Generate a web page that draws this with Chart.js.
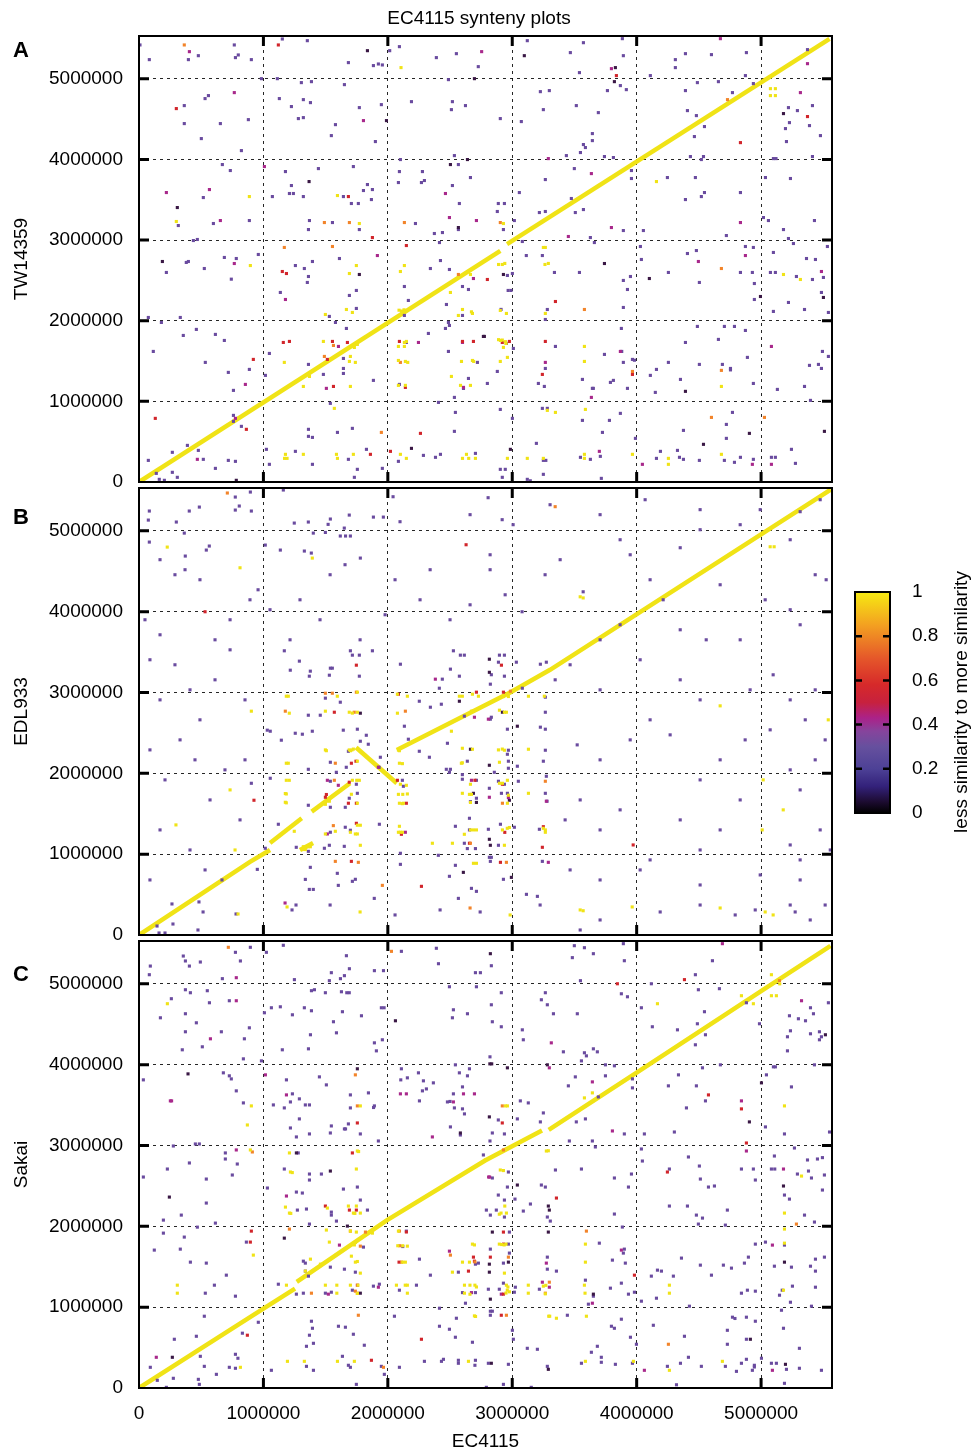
<!DOCTYPE html>
<html><head><meta charset="utf-8">
<script src="https://cdn.jsdelivr.net/npm/chart.js@4.4.0/dist/chart.umd.min.js"></script>
<style>
html,body{margin:0;padding:0;background:#fff}
body{width:973px;height:1453px;position:relative;overflow:hidden}
canvas{position:absolute;left:0}
</style></head><body>
<canvas id="cA" width="973" height="500" style="top:0px"></canvas>
<canvas id="cB" width="973" height="470" style="top:480px"></canvas>
<canvas id="cC" width="973" height="520" style="top:933px"></canvas>
<canvas id="cBar" width="133" height="280" style="left:840px;top:560px"></canvas>
<script>
// ---------------- DATA (genome positions in kb: [EC4115 position, query position]) ----------------
const X_MAX_BP = 5570000, Y_MAX_BP = 5530000;
const AXIS_TICKS = [0,1000000,2000000,3000000,4000000,5000000];
const BAR_TICKS = [0,0.2,0.4,0.6,0.8,1];
const X_TITLE = 'EC4115';
const CHART_TITLE = 'EC4115 synteny plots';
const BAR_TITLE = 'less similarity to more similarity';
const PANELS = ['A','B','C'];
const GENOMES = ['TW14359','EDL933','Sakai'];
// similarity value of each colour class
const SIM_CLASSES = ['dark','purple','magenta','red','orange','yellow'];
const SIM_VALUES  = [0.05, 0.22, 0.42, 0.55, 0.75, 0.97];

// ---- Panel A : TW14359 ----
const A_diag = [[[0,0],[2904,2866]],[[2958,2949],[5550,5495]]];
const A_dark = [[1836,5348],[2696,5001],[1989,4481],[1367,3725],[2503,3936],[2640,3998],[308,3403],[2567,3155],[188,2734],[1771,2573],[2768,1805],[2190,417],[782,21],[3097,5286],[3829,5138],[3821,4964],[5180,4568],[4102,2523],[3741,2709],[2929,2573],[4995,2300],[5501,2288],[4392,1124],[5509,628],[4906,603],[4537,467],[2985,405],[2776,1805]];
const A_magenta = [[405,5336],[2754,5336],[766,4828],[1804,4481],[1008,3911],[220,3589],[566,3626],[654,3242],[2463,3577],[2495,3279],[2712,3242],[766,2709],[1916,2808],[2688,2523],[1177,2263],[855,1210],[1603,1681],[2246,1730],[2600,1730],[1506,1161],[2608,1173],[775,789],[469,281],[4673,5497],[3797,5125],[5316,4828],[5373,5187],[3290,4010],[3636,3824],[3797,3155],[3451,3044],[4834,3217],[5485,2610],[4874,2808],[4496,2734],[3869,1619],[3636,1049],[5083,1681],[3266,1483],[5083,219],[4930,219],[4046,219],[3700,380]];
const A_red = [[1120,5419],[300,4630],[1683,3539],[1876,3031],[2149,2932],[1152,2610],[1185,2585],[919,1520],[1160,1730],[1209,1743],[1555,1743],[1675,1730],[1514,1520],[1563,1185],[2093,1743],[2600,1743],[2688,1743],[2141,1173],[131,789],[863,653],[2262,603],[2021,380],[1860,343],[3837,5039],[5373,4531],[4834,4208],[2800,2511],[3347,2238],[3966,1334],[2977,1743],[3266,1743],[3242,1334],[2920,1730]];
const A_orange = [[364,5419],[1490,3217],[1691,3217],[2133,3217],[1168,2908],[1555,2920],[2567,2573],[1563,1693],[1490,1557],[2101,1483],[1948,615],[4730,4741],[2904,3217],[4681,2647],[3580,2139],[3966,1371],[4681,1384],[5027,801],[4601,801]];
const A_yellow = [[2106,5138],[887,3539],[1595,3552],[300,3230],[1771,3205],[895,2684],[1747,2684],[1691,2585],[2101,2610],[2133,2684],[2664,2573],[2503,2350],[1667,2139],[1715,2102],[1498,2077],[2090,2130],[2110,2120],[2130,2135],[2600,2139],[2672,2110],[2680,2090],[2567,2065],[1168,1483],[1370,1309],[1321,1185],[1482,1743],[1731,1668],[1755,1706],[1699,1557],[1691,1495],[1739,1483],[1699,1185],[2133,1730],[2149,1743],[2085,1681],[2133,1681],[2085,1507],[2141,1495],[2160,1483],[2592,1495],[2680,1507],[2690,1495],[2511,1309],[2584,1198],[2664,1198],[2085,1198],[2141,1198],[1570,913],[2101,343],[2149,293],[2632,343],[2600,293],[2650,293],[2704,293],[1723,343],[1587,343],[1595,293],[1321,343],[1177,343],[1170,293],[1190,293],[5075,4877],[5115,4877],[5075,4791],[5115,4791],[4159,3725],[2929,3205],[3250,2908],[3266,2908],[3263,2697],[3290,2710],[2920,2697],[2940,2710],[2890,2697],[2904,2127],[2953,2090],[3266,2090],[5316,2511],[5180,2573],[4681,1185],[3580,1681],[3580,1495],[3588,900],[3347,863],[3282,888],[3250,293],[3121,293],[2961,293],[4681,343],[4255,293],[4255,219],[3966,343],[3580,343],[3580,293],[2904,1495],[2961,1545],[2890,1765],[2905,1755],[2920,1760],[2945,1740],[2950,1718],[2929,1669]];
const A_purple = [[8,5419],[766,5419],[1152,5493],[1353,5472],[2093,5398],[2015,5348],[83,5237],[397,5237],[477,5286],[775,5262],[798,5295],[903,5237],[1683,5200],[1884,5163],[1924,5183],[1956,5171],[2390,5262],[2551,5311],[2727,5150],[984,5001],[1112,5001],[1305,4952],[1386,4964],[1651,4927],[2487,4989],[531,4754],[558,4791],[1128,4754],[1321,4741],[1378,4704],[1225,4655],[364,4667],[1771,4642],[1948,4679],[2190,4716],[2519,4716],[2511,4617],[2624,4667],[364,4444],[654,4444],[879,4493],[1281,4506],[1321,4518],[1579,4431],[501,4258],[823,4109],[1546,4295],[1900,4221],[670,3936],[734,3862],[1177,3849],[1442,3886],[1723,3911],[2101,3998],[2093,3849],[2278,3849],[2535,4047],[2567,3936],[2664,3775],[517,3527],[1072,3539],[1209,3577],[1241,3577],[1321,3539],[1225,3676],[1836,3688],[1804,3614],[1876,3626],[1868,3502],[1643,3539],[1707,3453],[1763,3453],[2085,3713],[2270,3713],[2294,3738],[2519,3676],[2575,3453],[316,3180],[598,3205],[887,3242],[1370,3242],[1362,3130],[1555,3217],[1771,3130],[2222,3205],[2567,3130],[2374,3081],[2439,3093],[2415,2969],[437,2994],[469,3007],[380,2722],[397,2734],[220,2598],[686,2784],[782,2771],[959,2821],[525,2647],[742,2515],[1257,2684],[1329,2647],[1394,2734],[1362,2548],[1353,2474],[1611,2771],[2342,2647],[2423,2746],[2495,2635],[2600,2424],[2648,2387],[1136,2350],[1747,2375],[1691,2313],[1747,2152],[1530,2053],[1579,1978],[1667,1904],[2133,2424],[2165,2251],[2133,2065],[2471,2201],[2600,2065],[2487,1978],[2495,1941],[2463,1904],[2326,1842],[75,2040],[180,1978],[332,2040],[461,1892],[356,1817],[614,1830],[686,1755],[115,1619],[533,1483],[718,1359],[887,1396],[759,1136],[1048,1594],[1016,1322],[1362,1458],[1643,1532],[1643,1408],[1643,1346],[1482,1334],[1884,1260],[2149,1730],[2487,1619],[2720,1483],[2608,1160],[2648,1284],[2093,1210],[2535,1049],[2543,863],[2535,628],[2407,987],[1538,975],[759,826],[759,752],[823,690],[1362,653],[1362,566],[1394,553],[1595,615],[1715,665],[1828,405],[2423,343],[2383,306],[2286,330],[2085,256],[2704,355],[1956,169],[1755,157],[1731,58],[1683,281],[1257,380],[1024,405],[1048,219],[1394,219],[389,454],[477,392],[268,368],[75,268],[517,281],[614,169],[718,268],[775,256],[268,120],[308,58],[139,107],[163,33],[204,21],
[3121,5472],[3572,5447],[3885,5497],[3467,5324],[3893,5286],[4392,5311],[4601,5299],[4882,5324],[4311,5237],[4311,5138],[3869,4915],[3917,4865],[3765,4853],[3540,5076],[4110,5039],[4488,4952],[4657,4964],[4874,5039],[4938,4940],[4392,4853],[4770,4828],[3226,4840],[3298,4853],[3250,4617],[3073,4469],[2904,4506],[3515,4667],[3692,4580],[3644,4320],[3644,4233],[3572,4184],[3588,4147],[3548,4085],[3435,4047],[3741,4035],[3813,4023],[4408,4605],[4480,4543],[4545,4407],[4464,4283],[4432,4035],[4537,4035],[4520,3998],[5220,4642],[5292,4605],[5413,4667],[5228,4456],[5389,4419],[5196,4382],[5477,4295],[5204,4221],[5413,4035],[5373,5361],[5099,4010],[5120,4010],[3499,3886],[3266,3750],[3057,3589],[3475,3515],[3507,3341],[3572,3378],[3218,3341],[3266,3354],[3017,3242],[2888,3453],[2937,3453],[2880,3354],[2929,3130],[3628,3031],[3660,2969],[3081,2982],[3958,3862],[3958,3763],[4247,3775],[4472,3775],[4392,3502],[4520,3539],[4545,3589],[4834,3589],[3893,3118],[4054,3118],[4721,3056],[5035,3775],[5236,3763],[5019,3279],[5059,3242],[5180,3130],[5220,3019],[5260,2957],[5429,3242],[5533,2920],[5365,2771],[5437,2759],[5501,2536],[5413,2511],[5284,2548],[5115,2598],[5075,2598],[5099,2846],[4938,2908],[4874,2920],[4930,2598],[4834,2598],[4946,2461],[4946,2263],[4504,2474],[4480,2870],[4408,2833],[4255,2598],[4038,2759],[4030,2920],[3950,2548],[3893,2499],[3926,2387],[3893,2164],[3540,2598],[3339,2598],[3282,2139],[3266,2015],[3242,2808],[3113,2808],[2961,2561],[3001,2585],[2967,2375],[2990,2375],[2910,2140],[5485,2350],[5349,2139],[5541,2102],[5220,2226],[5099,2115],[4488,1929],[4705,1929],[4786,1929],[4874,1879],[4657,1768],[4392,1730],[3877,1904],[3880,1619],[3893,1483],[3741,1582],[3966,1520],[3982,1510],[3564,1272],[3644,1161],[3652,1161],[3789,1235],[3813,1260],[3926,1161],[4159,1396],[4110,1322],[4255,1483],[4352,1272],[4150,1111],[4504,1458],[4689,1458],[4754,1408],[4754,1390],[4890,1545],[4938,1222],[5131,1148],[5349,1185],[5389,1446],[5461,1458],[5485,1408],[5493,1619],[5541,1557],[5397,1012],[5244,405],[5276,231],[5115,306],[5083,306],[4938,281],[4834,306],[4786,244],[4705,268],[4721,714],[4721,541],[4770,863],[4504,268],[4376,281],[4376,640],[4344,306],[4328,392],[4191,380],[4159,293],[3990,541],[3869,851],[3781,764],[3725,615],[3708,318],[3628,281],[3548,306],[3716,45],[3564,764],[3242,913],[3282,913],[3194,479],[3250,268],[3270,268],[3250,95],[3121,33],[3145,15],[2920,58],[2904,157],[2944,157],[3001,789],[2904,900],[2800,1222],[2880,1371],[2953,1718],[3009,1656],[3347,1681],[3266,1408],[3210,1222],[3258,1185]];

// ---- Panel B : EDL933 ----
const B_diag = [[[0,0],[892,904],[1053,1052]],[[1053,1139],[1308,1445]],[[1388,1527],[1696,1878]],[[1294,1052],[1399,1139]],[[1745,2319],[2072,1878]],[[2072,2290],[2983,3000],[3304,3281],[5560,5510]]];
const B_dark = [[2816,3412],[2816,3250],[2575,2892],[3041,2583],[2921,2756],[1779,2744],[2664,2298],[2816,2100],[2688,1753],[2712,1640],[2977,1667],[2816,1184],[2824,1110],[2607,775],[2993,713]];
const B_magenta = [[2382,3165],[2696,2694],[2808,2670],[1924,2075],[1514,1914],[1602,1852],[2672,1914],[2816,1704],[2969,1700],[3274,1655],[1514,1250],[2141,1271],[3290,899],[1174,396]];
const B_red = [[2913,3338],[1747,3338],[2929,3004],[2085,2979],[2712,3004],[1570,2756],[1707,2125],[1744,2150],[924,1667],[1506,1738],[1690,1890],[1683,1630],[1747,1630],[1498,1704],[2077,1914],[2149,1630],[2700,1914],[2921,1865],[1747,1382],[2109,1246],[2656,1135],[2940,1270],[3242,1085],[3250,1340],[1707,911],[2270,602],[2905,899],[2629,4828],[531,3999],[3972,1114]];
const B_orange = [[2985,3016],[2141,2769],[1176,2769],[1498,2991],[1554,2991],[1747,3004],[1730,2756],[1578,2125],[1570,1914],[2921,1630],[1562,1353],[2664,1135],[1578,911],[1763,899],[1956,614],[2953,899],[3266,1902],[710,5468],[3345,5299],[2661,334]];
const B_yellow = [[3130,2954],[3258,2954],[2929,2950],[2969,2950],[2077,2979],[2077,2744],[2157,2954],[2575,2954],[2599,2954],[2680,2979],[2728,2954],[2672,2769],[2688,2769],[2897,2781],[2937,2756],[2953,2756],[1208,2744],[1184,2954],[1200,2954],[1594,2954],[1755,3004],[1498,2769],[1690,2756],[1715,2745],[1755,2756],[903,2769],[1690,2290],[1700,2280],[1712,2290],[1723,2300],[1498,2290],[1506,2280],[1755,2150],[1184,2125],[1200,2125],[2599,2310],[2680,2298],[2511,2521],[2591,2125],[2599,2130],[2085,2290],[2093,2280],[2093,2125],[2117,2120],[2889,2290],[2920,2300],[2937,2286],[2897,2137],[3130,2298],[1184,1914],[1208,1914],[1176,1750],[1184,1745],[1176,1642],[1184,1635],[1715,1914],[1750,1914],[1771,1914],[1707,1741],[1755,1630],[1530,1655],[1498,1617],[2101,1865],[2149,1852],[2085,1740],[2120,1740],[2157,1745],[2093,1630],[2117,1625],[2125,1630],[2664,1865],[2599,1753],[2656,1740],[2672,1740],[2664,1640],[2897,1877],[2921,1877],[2961,1914],[2969,1729],[2961,1630],[3130,1753],[1248,1283],[1321,1092],[1340,1092],[1360,1092],[1377,1092],[1313,1057],[1337,1057],[1498,1250],[1578,1283],[1699,1271],[1739,1250],[1755,1250],[1755,1358],[1779,1358],[1779,1110],[2085,1271],[2100,1271],[2117,1271],[2093,1345],[2358,1135],[2519,1135],[2615,1246],[2664,1300],[2688,1300],[2712,1300],[2921,1300],[2960,1320],[2977,1330],[2937,1110],[3250,1320],[3266,1300],[3266,1271],[2688,887],[2712,887],[227,4799],[1393,4663],[1190,347],[796,260],[5073,4803],[5105,4803],[3546,4184],[3570,4170],[812,4543],[4671,2835],[5540,2662],[5017,1919],[5009,1300],[5178,1548],[1777,285],[2983,248],[3546,310],[3570,300],[3964,347],[4671,334],[5033,285],[5097,248],[297,1362],[772,1052],[732,1795]];
const B_purple = [[1168,3516],[1699,3516],[1876,3516],[1715,3462],[1771,3462],[2527,3516],[2583,3462],[2615,3462],[2897,3462],[2937,3462],[2889,3375],[3033,3375],[3226,3350],[3274,3375],[1289,3388],[1216,3276],[1377,3264],[1369,3202],[1538,3301],[1554,3301],[1530,3214],[1771,3202],[2101,3350],[2503,3289],[2575,3202],[2832,3220],[2937,3202],[2824,3103],[2438,3165],[2414,3053],[2253,2892],[2430,2855],[2342,2818],[2615,2707],[2824,2670],[2832,2694],[2961,2546],[3226,2571],[3266,2546],[3266,2756],[3266,2942],[3081,3053],[1498,2930],[1618,2880],[1457,2719],[1361,2719],[1755,2546],[1642,2534],[1393,2521],[1256,2496],[1313,2484],[1031,2534],[1055,2521],[1144,2410],[1779,2397],[1827,2471],[1843,2360],[1683,2273],[1538,2137],[1666,2075],[1361,2050],[1586,2013],[1940,2199],[1930,2075],[2133,2583],[2165,2422],[2253,2273],[2334,2199],[2479,2372],[2639,2150],[2470,2050],[2503,2050],[2495,2013],[2969,2286],[2961,2236],[2969,2150],[2969,2063],[3041,2088],[2856,2013],[3266,2286],[3250,2150],[903,1877],[1055,1939],[1361,1605],[1538,1902],[1747,1865],[1755,1753],[1690,1692],[1658,1580],[1538,1580],[2117,1914],[2125,1840],[2599,1984],[2599,1927],[2712,1914],[2664,1650],[2712,1692],[2816,1815],[2889,1902],[2937,1865],[2913,1753],[2961,1753],[3049,1902],[3266,1753],[3280,1655],[3274,1964],[1120,1370],[1264,1085],[1361,1035],[1538,1271],[1530,1110],[1490,1073],[1650,1097],[1658,1333],[1699,1296],[1932,1370],[2543,1345],[2615,1135],[2656,1444],[2656,1300],[2639,1069],[2704,1069],[2808,1308],[2889,1110],[2905,1370],[3017,1333],[3218,1308],[1015,1073],[951,812],[1377,837],[1337,688],[1369,564],[1401,564],[1594,763],[1602,614],[1715,664],[1739,689],[1891,453],[2101,1011],[2101,874],[2406,986],[2495,726],[2543,862],[2567,453],[2672,577],[2712,540],[2816,961],[2832,961],[2824,911],[2929,689],[3114,503],[3202,478],[3242,911],
[774,5418],[895,5480],[1160,5505],[83,5245],[75,5133],[404,5245],[485,5294],[774,5257],[806,5307],[903,5245],[300,5109],[364,4972],[83,4861],[372,4688],[541,4762],[565,4812],[1015,4824],[1136,4762],[1248,5096],[1361,5109],[1329,4750],[1385,4725],[1498,4980],[1520,5080],[1538,5146],[1401,4972],[1650,5034],[1618,4936],[1660,4936],[1699,4936],[1690,5195],[1779,4663],[1884,5170],[1964,5170],
[265,384],[482,409],[515,285],[780,260],[145,111],[273,136],[161,25],[209,25],[474,62],[1230,310],[1262,371],
[2042,5422],[2098,5113],[2661,5200],[2806,5410],[2919,5138],[3007,5076],[3304,5323],[3706,5200],[4068,5385],[4510,5262],[4993,5262],[5314,5237],[5475,5385],[2822,4704],[3867,4890],[3948,4704],[4350,4791],[4510,5014],[4832,5076],[5234,4890],
[169,4643],[289,4457],[370,4519],[490,4395],[892,4147],[957,4271],[1294,4147],[1536,4457],[1656,4581],[2058,4395],[2259,4147],[2340,4519],[2661,4085],[2822,4519],[2943,4209],[3079,3999],[3264,4457],[3385,4643],[3570,4246],[3706,3652],[3867,3838],[4108,4395],[4213,4147],[4350,3776],[4559,3652],[4671,4333],[4832,3652],[5033,4147],[5234,4024],[5314,3838],[5435,4457],[5523,4395],[48,3900],[169,3714],[611,3652],[732,3900],[1053,4024],[1214,3652],[1455,3900],[1777,3652],[1978,3962],[2500,3900],
[3345,3157],[3465,3343],[3706,3033],[4028,3405],[4350,3157],[4510,2909],[4912,3033],[5097,3219],[5234,2909],[5355,2662],[5435,3033],[3522,2352],[3706,2167],[3948,2414],[4108,2662],[4269,2476],[4510,1919],[4671,2167],[4872,2414],[5073,2538],[5234,2043],[5314,1795],[5435,2167],[5515,2414],[3425,1424],[3546,1671],[3706,1300],[3867,1548],[4108,929],[4350,1424],[4510,1052],[4671,1300],[4832,1671],[5234,1114],[5314,929],[5475,1300],[5556,1052],[3465,805],[3706,681],[4028,805],[4510,619],[4993,743],[5314,681],
[1536,371],[2058,248],[2420,310],[2742,285],[3224,371],[3706,186],[4189,285],[4510,371],[4792,248],[4953,310],[5234,371],[5274,285],[5395,186],[5515,371],[3546,62],
[88,3405],[169,2909],[289,3343],[410,3033],[490,2662],[611,3157],[732,3528],[852,2909],[88,2290],[209,1919],[330,2414],[450,2167],[571,1671],[691,2043],[812,1424],[169,1300],[410,1052],[531,805],[88,681],[667,681],[852,2167]];

// ---- Panel C : Sakai ----
const C_diag = [[[0,0],[1000,983],[1254,1230]],[[1268,1313],[1991,2074],[2782,2815],[3239,3185]],[[3293,3193],[4003,3905],[5003,4913],[5558,5469]]];
const C_dark = [[394,3886],[1755,3949],[2061,4543],[2583,3155],[244,2362],[1265,2908],[1538,2684],[1675,2003],[1168,1854],[1779,1173],[268,380],[2824,5373],[2820,4010],[2835,4010],[2961,3961],[3282,3998],[2816,3354],[3041,2511],[3290,2251],[3298,2201],[5003,3775],[4906,3292],[5180,2499],[5188,1557],[5517,4370],[5196,293],[3290,231],[2832,306],[4914,603],[3652,1161],[3290,1929],[2824,1099],[2816,1532],[2816,1433],[2840,1929],[2969,1557]];
const C_magenta = [[782,5076],[782,4791],[574,4320],[1016,3874],[252,3552],[262,3552],[1185,3626],[2527,3539],[2608,3639],[2696,3639],[2101,3639],[2149,3639],[2358,3106],[782,2945],[1185,2375],[1611,1768],[1522,1161],[1924,1247],[2495,1693],[2672,1180],[139,380],[4689,5497],[5325,4791],[3314,4270],[3298,3961],[3644,3787],[3805,3180],[4842,3552],[2810,2610],[2818,2610],[4882,2932],[5180,2709],[5091,1768],[5091,219],[4062,219],[3877,1706],[3644,1049],[3274,1545],[3242,1309],[3298,1247],[2912,1161]];
const C_red = [[1755,3279],[1715,2908],[1498,2251],[1691,2201],[1747,2201],[903,1941],[895,1805],[2149,1930],[2090,1557],[2648,1446],[2696,1569],[2688,1619],[1755,1272],[2270,603],[871,653],[1868,343],[4384,5052],[3845,5001],[2920,3279],[4577,3626],[4842,3453],[4882,3031],[4247,2672],[3355,2350],[3982,1396],[2912,900],[2824,1619],[2929,1161],[2930,1780],[2929,1929]];
const C_orange = [[718,5452],[2029,5402],[1739,3874],[1755,3490],[911,2920],[1209,1966],[1699,1941],[1820,1929],[1779,1755],[1739,1198],[1755,1173],[1386,1173],[2093,1941],[2096,1760],[2110,1557],[2700,1560],[2503,1644],[1763,900],[1965,256],[5148,5039],[2920,3490],[2929,2945],[5284,2028],[3596,1941],[4255,541],[2953,900],[3298,1309],[3266,1173],[2969,1619]];
const C_yellow = [[228,4754],[903,3490],[871,3254],[1779,3490],[895,2945],[1209,2908],[1217,2672],[1232,2665],[1747,2709],[1755,2932],[1765,2925],[1177,2238],[1209,2164],[1220,2160],[1514,2226],[1683,2251],[1723,2164],[1735,2160],[1747,2251],[1779,2164],[1506,1954],[1530,1805],[1699,1941],[1747,1929],[1876,1916],[1723,1790],[1731,1770],[1739,1800],[1707,1631],[1739,1557],[1755,1565],[1779,1421],[1337,1446],[1378,1594],[1458,1532],[1590,1173],[1498,1272],[1590,1272],[1699,1272],[1755,1170],[1760,1272],[1185,1272],[2085,1941],[2080,1760],[2120,1760],[2157,1755],[2120,1557],[2141,1557],[2069,1272],[2140,1272],[2157,1272],[2157,1173],[2519,1433],[2656,1557],[2600,1557],[2680,1780],[2696,1770],[2616,1272],[2660,1272],[2700,1272],[2712,1250],[2616,1173],[2660,1160],[2696,892],[2705,885],[308,1272],[308,1173],[919,1644],[1731,330],[1595,330],[1329,330],[1193,330],[2648,330],[815,256],[4167,4754],[4842,4853],[4938,4754],[5083,5113],[5150,5000],[5083,4853],[5123,4853],[3644,3651],[3580,3589],[2945,3490],[2961,3490],[2784,2821],[3274,2932],[3290,2935],[2904,2697],[2929,2690],[5188,3490],[5325,2622],[5188,2164],[5188,1966],[5188,1792],[5180,1210],[3293,888],[3301,888],[3355,863],[3596,888],[4263,1173],[4263,1272],[3588,1780],[3588,1557],[3580,1272],[3585,1173],[3250,1260],[3270,1270],[3266,1165],[3129,1272],[3129,1173],[2953,1272],[2965,1250],[2960,1210],[2977,1190],[2950,1175],[2937,1421],[2896,1780],[2915,1775],[2935,1770],[2950,1780],[2953,2164],[2910,2164],[2896,2150],[2940,2251],[4689,330],[4263,219],[3974,330],[3588,330]];
const C_purple = [[895,5452],[775,5390],[1160,5477],[1024,5390],[2109,5402],[2390,5440],[356,5344],[373,5283],[405,5220],[493,5270],[815,5283],[91,5220],[83,5113],[670,5064],[1249,5052],[1530,5039],[1546,5138],[1619,5064],[1651,5101],[1667,5348],[1691,5187],[1892,5163],[1965,5163],[2407,5249],[2704,5138],[2744,5138],[2495,4964],[2712,4964],[373,4927],[413,4890],[549,4915],[260,4816],[566,4766],[726,4791],[1386,4915],[1410,4927],[1498,4890],[1627,4902],[1670,4890],[1690,4890],[1064,4704],[1136,4716],[1329,4704],[1386,4667],[1233,4617],[1008,4642],[1635,4655],[1788,4605],[1948,4704],[1970,4704],[2527,4679],[2519,4580],[2640,4630],[172,4580],[373,4630],[461,4518],[373,4407],[662,4407],[887,4456],[847,4320],[509,4221],[348,4184],[839,4072],[984,4047],[1152,4184],[1362,4196],[1378,4370],[1563,4531],[1587,4394],[1892,4270],[1956,4308],[1908,4171],[35,3812],[678,3899],[726,3862],[742,3824],[782,3676],[1185,3812],[1450,3849],[1506,3750],[2109,3949],[2104,3812],[2157,3837],[2246,3899],[2286,3800],[2366,3775],[2543,3998],[2575,3899],[2656,3949],[2640,3862],[2600,3725],[2278,3676],[2310,3700],[839,3527],[1233,3639],[1217,3539],[1289,3577],[1168,3465],[1080,3502],[1337,3502],[1370,3502],[1289,3329],[1217,3217],[1265,3106],[1370,3143],[1546,3242],[1538,3155],[1651,3205],[1660,3205],[1683,3267],[1779,3143],[1699,3626],[1699,3465],[1844,3651],[1892,3490],[1885,3470],[1924,3056],[2254,3552],[2479,3539],[2500,3545],[2535,3465],[2600,3453],[2616,3391],[2527,3639],[2503,3230],[2583,3130],[453,3019],[485,3019],[276,2994],[694,2908],[694,2833],[405,2784],[790,2771],[228,2709],[35,2610],[541,2585],[750,2635],[541,2288],[340,2139],[196,2077],[614,2040],[469,1990],[196,1916],[364,1867],[123,1706],[332,1718],[413,1557],[541,1545],[702,1396],[606,1272],[533,1173],[775,1136],[863,1805],[1280,2908],[1168,2709],[1032,2474],[1370,2647],[1370,2573],[1466,2647],[1265,2424],[1313,2412],[1643,2461],[1755,2486],[1779,2325],[1273,2201],[1346,2214],[1546,2176],[1546,2139],[1836,2201],[1587,2065],[1370,2028],[1804,1743],[1739,1433],[1651,1470],[1538,1495],[1321,1569],[1337,1545],[1337,1446],[1362,1384],[1321,1173],[1265,1161],[1498,1173],[1546,1185],[1715,1210],[1884,1260],[1932,1284],[1120,1284],[2149,1941],[2120,1750],[2093,1210],[2230,1272],[2254,1594],[2342,1396],[2567,1433],[2704,1532],[2728,1545],[2600,1180],[2704,1180],[2624,1049],[2551,863],[2495,727],[2415,987],[2415,764],[2543,628],[2680,566],[2053,888],[1659,752],[1603,764],[1723,665],[1811,529],[1386,826],[1394,739],[1370,653],[1346,516],[1402,553],[1635,392],[1683,281],[1699,256],[1948,268],[1972,169],[2093,256],[2294,330],[2431,330],[2447,355],[2567,343],[2567,306],[2704,343],[2700,281],[1747,45],[1346,268],[1402,219],[1064,219],[959,813],[831,678],[775,417],[795,368],[726,256],[775,244],[622,169],[525,268],[477,107],[485,45],[461,640],[493,392],[525,888],[284,603],[91,256],[147,95],[276,120],[220,8],
[2832,5224],[3499,5472],[3580,5447],[3483,5324],[3652,5373],[3893,5497],[3901,5286],[4609,5286],[4472,5113],[4665,4940],[4496,4927],[4118,5001],[3548,5039],[3877,4877],[3926,4840],[3266,4890],[3234,4803],[3282,4741],[3331,4630],[3523,4630],[2912,4890],[2832,4741],[2840,4531],[2912,4469],[3081,4431],[3089,4308],[3411,4159],[3580,4147],[3596,4109],[3652,4196],[3684,4159],[3556,4047],[2821,4097],[3749,3998],[3821,3986],[3749,3862],[3507,3849],[3451,3738],[3966,3824],[3966,3713],[4038,4704],[4126,4469],[4328,4431],[4545,4655],[4488,4506],[4553,4370],[4472,4246],[4336,3874],[4255,3738],[4480,3738],[4529,3961],[4673,3998],[4882,4766],[4987,4506],[5397,4704],[5421,4630],[5228,4605],[5300,4568],[5357,4543],[5236,4419],[5212,4345],[5397,4382],[5469,4407],[5485,4345],[5469,4308],[5541,4766],[5212,4171],[5099,3973],[5115,3973],[5043,3874],[5244,3725],[5429,3998],[3692,3601],[3588,3329],[3515,3292],[3459,3056],[3644,3056],[3668,2982],[3065,3552],[3129,3527],[2888,3316],[3041,3329],[3250,3403],[3226,3292],[2840,3155],[2937,3143],[2821,3056],[2768,2883],[3901,3143],[4062,3143],[4303,3167],[4400,3465],[4553,3552],[5035,3230],[5188,3143],[5550,3167],[4038,2957],[4046,2808],[4416,2858],[4504,2746],[4512,2585],[4263,2709],[3958,2647],[3934,2486],[3821,2598],[3556,2709],[3347,2697],[3266,2486],[3234,2511],[2961,2486],[2969,2672],[2840,2598],[2888,2387],[2937,2325],[3022,2337],[3146,2276],[3089,2189],[3282,2115],[3306,2065],[3821,2152],[3885,1991],[4263,2251],[4408,2251],[4480,2139],[4529,2102],[4496,2028],[4713,2015],[4729,2201],[4625,2499],[4577,2486],[4842,2709],[4938,2709],[4954,2573],[5083,2709],[5110,2709],[5188,2387],[5228,2337],[5292,2647],[5381,2684],[5405,2598],[5509,2635],[5373,2821],[5453,2833],[5493,2850],[5493,2449],[5268,2969],[5107,2870],[5349,2139],[5429,2053],[5188,1768],[5035,1805],[4954,1780],[5107,1507],[5244,1495],[5397,1507],[5437,1446],[5437,1594],[5509,1619],[5252,1260],[5170,1210],[5148,1148],[5236,1061],[5437,1247],[5405,1012],[5164,962],[5180,739],[5308,491],[5083,306],[5123,306],[5204,231],[5308,244],[5485,219],[5188,58],[5003,368],[4946,281],[4946,260],[4930,219],[4882,355],[4842,306],[4802,206],[4713,268],[4520,268],[4352,306],[4416,380],[4320,40],[4247,268],[3966,306],[3829,293],[3716,380],[3716,318],[3636,442],[3684,516],[3556,306],[3282,268],[3121,491],[3202,479],[2969,293],[2808,306],[2929,45],[2792,8],[3153,8],[3001,714],[3009,603],[2824,950],[2840,950],[2824,900],[3443,900],[3797,764],[3821,739],[3877,851],[3950,628],[3998,541],[4134,776],[4384,640],[4424,1012],[4729,714],[4729,541],[4770,876],[4790,860],[4882,876],[4882,603],[4954,826],[4954,1198],[4890,1210],[4842,1173],[4697,1520],[4762,1483],[4866,1545],[4898,1619],[4512,1520],[4601,1396],[4360,1607],[4199,1446],[4167,1458],[4118,1384],[4295,1384],[4159,1111],[4038,1074],[3982,1185],[3934,1161],[3877,1297],[3909,1545],[3805,1582],[3901,1718],[3893,1669],[3700,1792],[3588,1334],[3652,1136],[3612,1037],[3789,1235],[3282,1619],[3282,1470],[3355,1446],[3218,1222],[3025,1247],[3017,1185],[2929,1297],[2808,1222],[2896,1222],[2824,1718],[2929,1545],[2977,1669],[2969,1780],[2977,1929],[2872,2201],[2824,2139],[2792,2201],[2937,2115]];

// ---------------- STYLE ----------------
const FONT = "'Liberation Sans', Arial, Helvetica, sans-serif";
const CLASS_COLORS = {dark:'#3a1845', purple:'#6a4b9f', magenta:'#a8288b', red:'#d1252b', orange:'#f2842a', yellow:'#f0e316'};
const DIAG_COLOR = '#f0e316';
const BAR_STOPS = [[0,'#000000'],[0.05,'#1c0b30'],[0.12,'#33217a'],[0.2,'#4d4196'],[0.3,'#66509e'],[0.37,'#86449c'],[0.43,'#ab2289'],[0.5,'#c7213e'],[0.58,'#d6292a'],[0.7,'#e5572a'],[0.85,'#f3a021'],[1,'#f6ea12']];

const PANEL_DATA = {
  A:{diag:A_diag, dark:A_dark, purple:A_purple, magenta:A_magenta, red:A_red, orange:A_orange, yellow:A_yellow},
  B:{diag:B_diag, dark:B_dark, purple:B_purple, magenta:B_magenta, red:B_red, orange:B_orange, yellow:B_yellow},
  C:{diag:C_diag, dark:C_dark, purple:C_purple, magenta:C_magenta, red:C_red, orange:C_orange, yellow:C_yellow}
};
const LAYOUT = {
  A:{canvas:'cA', padTop:36, padBottom:14, xh:4, showX:false, letterY:51, title:true},
  B:{canvas:'cB', padTop:8, padBottom:11, xh:4, showX:false, letterY:38, title:false},
  C:{canvas:'cC', padTop:8, padBottom:0, xh:65, showX:true, letterY:42, title:false}
};

const kb = arr => arr.map(p => ({x:p[0]*1000, y:p[1]*1000}));

const framePlugin = {
  id:'frame',
  afterDatasetsDraw(chart){
    const {ctx, chartArea:a, scales:{x, y}} = chart;
    ctx.save();
    ctx.setLineDash([]);
    ctx.strokeStyle = '#000';
    ctx.lineWidth = 3;
    ctx.beginPath();
    AXIS_TICKS.forEach(v => {
      const px = x.getPixelForValue(v);
      if (px > a.left + 2 && px < a.right - 2) {
        ctx.moveTo(px, a.bottom); ctx.lineTo(px, a.bottom - 10);
        ctx.moveTo(px, a.top); ctx.lineTo(px, a.top + 10);
      }
      const py = y.getPixelForValue(v);
      if (py < a.bottom - 2 && py > a.top + 2) {
        ctx.moveTo(a.left, py); ctx.lineTo(a.left + 10, py);
        ctx.moveTo(a.right, py); ctx.lineTo(a.right - 10, py);
      }
    });
    ctx.stroke();
    ctx.lineWidth = 2;
    ctx.strokeRect(a.left, a.top, a.right - a.left, a.bottom - a.top);
    ctx.restore();
  }
};
const textPlugin = {
  id:'panelText',
  afterDraw(chart, args, opts){
    const ctx = chart.ctx;
    ctx.save();
    ctx.fillStyle = '#000';
    ctx.textBaseline = 'middle';
    ctx.font = 'bold 22px ' + FONT;
    ctx.textAlign = 'left';
    ctx.fillText(opts.letter, 13, opts.letterY);
    if (opts.title) {
      ctx.font = '19px ' + FONT;
      ctx.textAlign = 'center';
      ctx.fillText(CHART_TITLE, 479, 19);
    }
    ctx.restore();
  }
};

PANELS.forEach((p, i) => {
  const L = LAYOUT[p], D = PANEL_DATA[p];
  const datasets = [];
  D.diag.forEach(seg => datasets.push({
    data: kb(seg), showLine:true, borderColor:DIAG_COLOR, borderWidth:4.5, pointRadius:0,
    borderCapStyle:'butt', fill:false, order:10
  }));
  SIM_CLASSES.forEach((c, k) => datasets.push({
    label: c + ' (' + SIM_VALUES[k] + ')', data: kb(D[c]), pointStyle:'rect', pointRadius:2.2,
    backgroundColor: CLASS_COLORS[c], borderWidth:0, order: (c === 'purple') ? 6 : 5 - k
  }));
  new Chart(document.getElementById(L.canvas), {
    type:'scatter',
    data:{datasets},
    options:{
      responsive:false, animation:false, devicePixelRatio:1, events:[],
      layout:{padding:{left:0, right:141, top:L.padTop, bottom:L.padBottom}},
      plugins:{legend:{display:false}, tooltip:{enabled:false},
        panelText:{letter:p, letterY:L.letterY, title:L.title}},
      scales:{
        x:{type:'linear', min:0, max:X_MAX_BP,
          afterBuildTicks:s => { s.ticks = AXIS_TICKS.map(v => ({value:v})); },
          afterFit:s => { s.height = L.xh; s.paddingLeft = 0; s.paddingRight = 0; },
          grid:{color:'rgba(0,0,0,0.85)', lineWidth:1, drawTicks:false},
          border:{display:false, dash:[3,4]},
          ticks:{display:L.showX, color:'#000', font:{family:FONT, size:19}, padding:14, maxRotation:0, autoSkip:false,
            callback:v => String(v)},
          title:{display:L.showX, text:X_TITLE, color:'#000', font:{family:FONT, size:19}, padding:{top:0, bottom:0}}
        },
        y:{type:'linear', min:0, max:Y_MAX_BP,
          afterBuildTicks:s => { s.ticks = AXIS_TICKS.map(v => ({value:v})); },
          afterFit:s => { s.width = 139; s.paddingTop = 0; s.paddingBottom = 0; },
          grid:{color:'rgba(0,0,0,0.85)', lineWidth:1, drawTicks:false},
          border:{display:false, dash:[3,4]},
          ticks:{color:'#000', font:{family:FONT, size:19}, padding:16, autoSkip:false, callback:v => String(v)},
          title:{display:true, text:GENOMES[i], color:'#000', font:{family:FONT, size:19}, padding:{top:10, bottom:0}}
        }
      }
    },
    plugins:[framePlugin, textPlugin]
  });
});

// ---------------- COLOUR BAR ----------------
const barFrame = {
  id:'barFrame',
  afterDraw(chart){
    const {ctx, chartArea:a, scales:{y}} = chart;
    ctx.save();
    ctx.strokeStyle = '#000';
    ctx.lineWidth = 2.5;
    ctx.beginPath();
    BAR_TICKS.forEach(v => {
      const py = y.getPixelForValue(v);
      if (py < a.bottom - 2 && py > a.top + 2) {
        ctx.moveTo(a.left, py); ctx.lineTo(a.left + 7, py);
        ctx.moveTo(a.right, py); ctx.lineTo(a.right - 7, py);
      }
    });
    ctx.stroke();
    ctx.lineWidth = 2;
    ctx.strokeRect(a.left, a.top, a.right - a.left, a.bottom - a.top);
    ctx.fillStyle = '#000';
    ctx.font = '19px ' + FONT;
    ctx.textAlign = 'center';
    ctx.textBaseline = 'middle';
    ctx.translate(122, 142);
    ctx.rotate(-Math.PI / 2);
    ctx.fillText(BAR_TITLE, 0, 0);
    ctx.restore();
  }
};
new Chart(document.getElementById('cBar'), {
  type:'bar',
  data:{labels:['similarity'], datasets:[{data:[[0,1]], borderWidth:0, barPercentage:1, categoryPercentage:1,
    backgroundColor:c => {
      const ch = c.chart, a = ch.chartArea;
      if (!a) return '#888';
      const g = ch.ctx.createLinearGradient(0, a.bottom, 0, a.top);
      BAR_STOPS.forEach(s => g.addColorStop(s[0], s[1]));
      return g;
    }}]},
  options:{
    responsive:false, animation:false, devicePixelRatio:1, events:[],
    layout:{padding:{left:15, right:0, top:32, bottom:27}},
    plugins:{legend:{display:false}, tooltip:{enabled:false}},
    scales:{
      x:{display:false},
      y:{position:'right', min:0, max:1,
        afterBuildTicks:s => { s.ticks = BAR_TICKS.map(v => ({value:v})); },
        afterFit:s => { s.width = 83; s.paddingTop = 0; s.paddingBottom = 0; },
        grid:{display:false, drawTicks:false}, border:{display:false},
        ticks:{color:'#000', font:{family:FONT, size:19}, padding:22, autoSkip:false, callback:v => String(v)}
      }
    }
  },
  plugins:[barFrame]
});
</script>
</body></html>
